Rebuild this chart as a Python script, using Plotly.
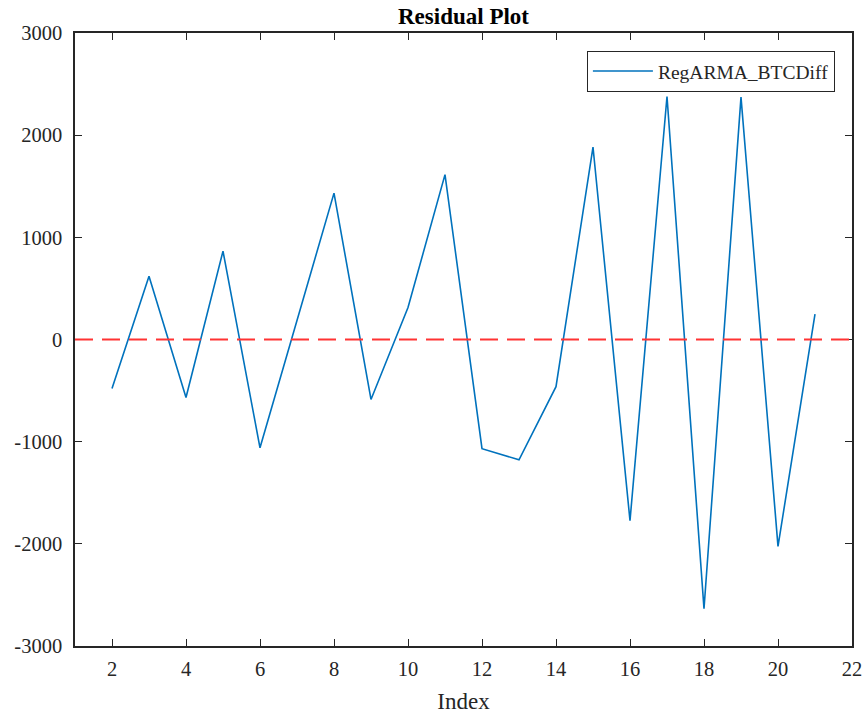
import plotly.graph_objects as go

index = list(range(2, 22))
residuals = [-480, 620, -568, 865, -1060, 187, 1433, -587, 313, 1614,
             -1069, -1177, -462, 1884, -1773, 2379, -2635, 2372, -2025, 249]
series_name = "RegARMA_BTCDiff"
x_ticks = [2, 4, 6, 8, 10, 12, 14, 16, 18, 20, 22]
y_ticks = [-3000, -2000, -1000, 0, 1000, 2000, 3000]
y_tick_text = ["-3000", "-2000", "-1000", "0", "1000", "2000", "3000"]
zero_level = 0

FONT = "Liberation Serif, Times New Roman, serif"
INK = "#262626"

fig = go.Figure()
fig.add_trace(go.Scatter(
    x=index, y=residuals, mode="lines", name=series_name,
    line=dict(color="#0072BD", width=1.6),
))
fig.add_shape(type="line", xref="paper", yref="y", x0=0, x1=1,
              y0=zero_level, y1=zero_level,
              line=dict(color="#FF3333", width=2, dash="18px,9px"))

fig.update_layout(
    width=863, height=718,
    margin=dict(l=75, r=11, t=33, b=72),
    paper_bgcolor="white", plot_bgcolor="white",
    font=dict(family=FONT, size=20, color=INK),
    title=dict(text="<b>Residual Plot</b>", x=(75 + 852) / 2 / 863, xanchor="center",
               y=1 - 16 / 718, yanchor="middle",
               font=dict(family=FONT, size=23, color="black")),
    showlegend=True,
    legend=dict(x=0.978, y=0.971, xanchor="right", yanchor="top",
                bgcolor="white", bordercolor=INK, borderwidth=1, itemwidth=60,
                tracegroupgap=0,
                font=dict(family=FONT, size=19.5, color=INK)),
)
fig.update_xaxes(
    range=[1, 22], tickvals=x_ticks, ticks="inside", ticklen=7, tickwidth=1,
    tickcolor=INK, showline=True, linecolor=INK, linewidth=1.5,
    mirror="ticks", showgrid=False, zeroline=False, automargin=False,
    ticklabelstandoff=4,
    title=dict(text="Index", font=dict(family=FONT, size=23, color=INK), standoff=14),
    tickfont=dict(family=FONT, size=20.5, color=INK),
)
fig.update_yaxes(
    range=[-3000, 3000], tickvals=y_ticks, ticktext=y_tick_text,
    ticks="inside", ticklen=7, tickwidth=1,
    tickcolor=INK, showline=True, linecolor=INK, linewidth=1.5,
    mirror="ticks", showgrid=False, zeroline=False, automargin=False,
    ticklabelstandoff=7,
    tickfont=dict(family=FONT, size=20.5, color=INK),
)

fig.write_html("out.html", config={"displayModeBar": False},
               post_script="document.body.style.margin='0px';")
